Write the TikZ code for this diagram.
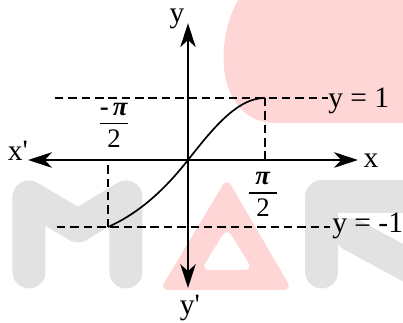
\documentclass[tikz,border=0pt]{standalone}
\usepackage{fontspec}
\setmainfont{Liberation Serif}
\usetikzlibrary{arrows.meta}
\definecolor{wmgray}{RGB}{226,226,226}
\definecolor{wmpink}{RGB}{255,214,214}

\tikzset{
  axis/.style={line width=1.4pt, {Stealth[length=17pt, width=11pt, inset=5pt]}-{Stealth[length=17pt, width=11pt, inset=5pt]}},
  guide/.style={line width=1pt, dash pattern=on 6pt off 3.5pt},
  lbl/.style={font=\fontsize{21}{23}\selectfont, inner sep=0pt},
  frac/.style={font=\fontsize{19}{21}\selectfont, inner sep=0pt}
}
\newcommand{\halfpi}[1]{\shortstack{\makebox[0.7cm]{#1\textbf{\textit{π}}}\\[2pt]\rule{0.7cm}{0.9pt}\\[1pt]2}}

\begin{document}
\begin{tikzpicture}
  \useasboundingbox (-4.7,-4.05) rectangle (5.375,4.0);

  % Watermark (pixel grid)
  \begin{scope}[shift={(-4.7,4.0)}, x=0.025cm, y=-0.025cm]
    \clip (0,0) rectangle (403,322);
    \fill[wmpink] (238,0) .. controls (224,25) and (218,65) .. (230,92) .. controls (240,112) and (252,123) .. (278,123) -- (403,123) -- (403,0) -- cycle;
    \draw[wmgray, line width=0.825cm, line cap=round, line join=round] (29,272) -- (29,197) -- (78,226) -- (126,197) -- (126,272);
    \fill[wmpink, even odd rule, rounded corners=6pt] (227,178) -- (292,290) -- (160,290) -- cycle (227,228) -- (253,270) -- (201,270) -- cycle;
    \draw[wmgray, line width=0.825cm, line cap=round, line join=round] (322,272) -- (322,197) -- (420,197);
    \draw[wmgray, line width=0.825cm, line cap=round] (352,235) -- (420,272);
  \end{scope}

  % Axes
  \coordinate (O) at (0,0);
  \coordinate (xl) at (-4.0,0);
  \coordinate (xr) at (4.25,0);
  \coordinate (yt) at (0,3.42);
  \coordinate (yb) at (0,-3.2);
  \draw[axis] (xl) -- (xr);
  \draw[axis] (yb) -- (yt);

  % Guide lines y = 1 and y = -1
  \coordinate (p) at (1.925,1.55);
  \coordinate (q) at (-2.0,-1.675);
  \draw[guide] (-3.325,1.55) -- (3.5,1.55);
  \draw[guide] (-3.275,-1.675) -- (3.55,-1.675);
  \draw[guide] (p) -- (p |- O);
  \draw[guide] (q) -- (q |- O);

  % Curve
  \draw[line width=1.2pt] (q) .. controls (-1.1,-1.275) and (-0.45,-0.57) .. (O)
    -- plot[domain=0:90, samples=30] ({1.925*\x/90}, {1.55*sin(\x)});

  % Labels
  \node[lbl, anchor=base] (ylab) at (-0.275,3.44) {y};
  \node[lbl, anchor=base] (yplab) at (0.05,-3.86) {y\textquotesingle};
  \node[lbl, anchor=base] (xplab) at (-4.25,0) {x\textquotesingle};
  \node[lbl, anchor=base] (xlab) at (4.575,-0.175) {x};
  \node[lbl, anchor=base west] (one) at (3.5,1.325) {y = 1};
  \node[lbl, anchor=base west] (mone) at (3.6,-1.8) {y = -1};
  \node[frac] (mhalf) at (-1.85,0.87) {\halfpi{\textbf{-}\hfill}};
  \node[frac] (half) at (1.875,-0.87) {\halfpi{}};
\end{tikzpicture}
\end{document}
